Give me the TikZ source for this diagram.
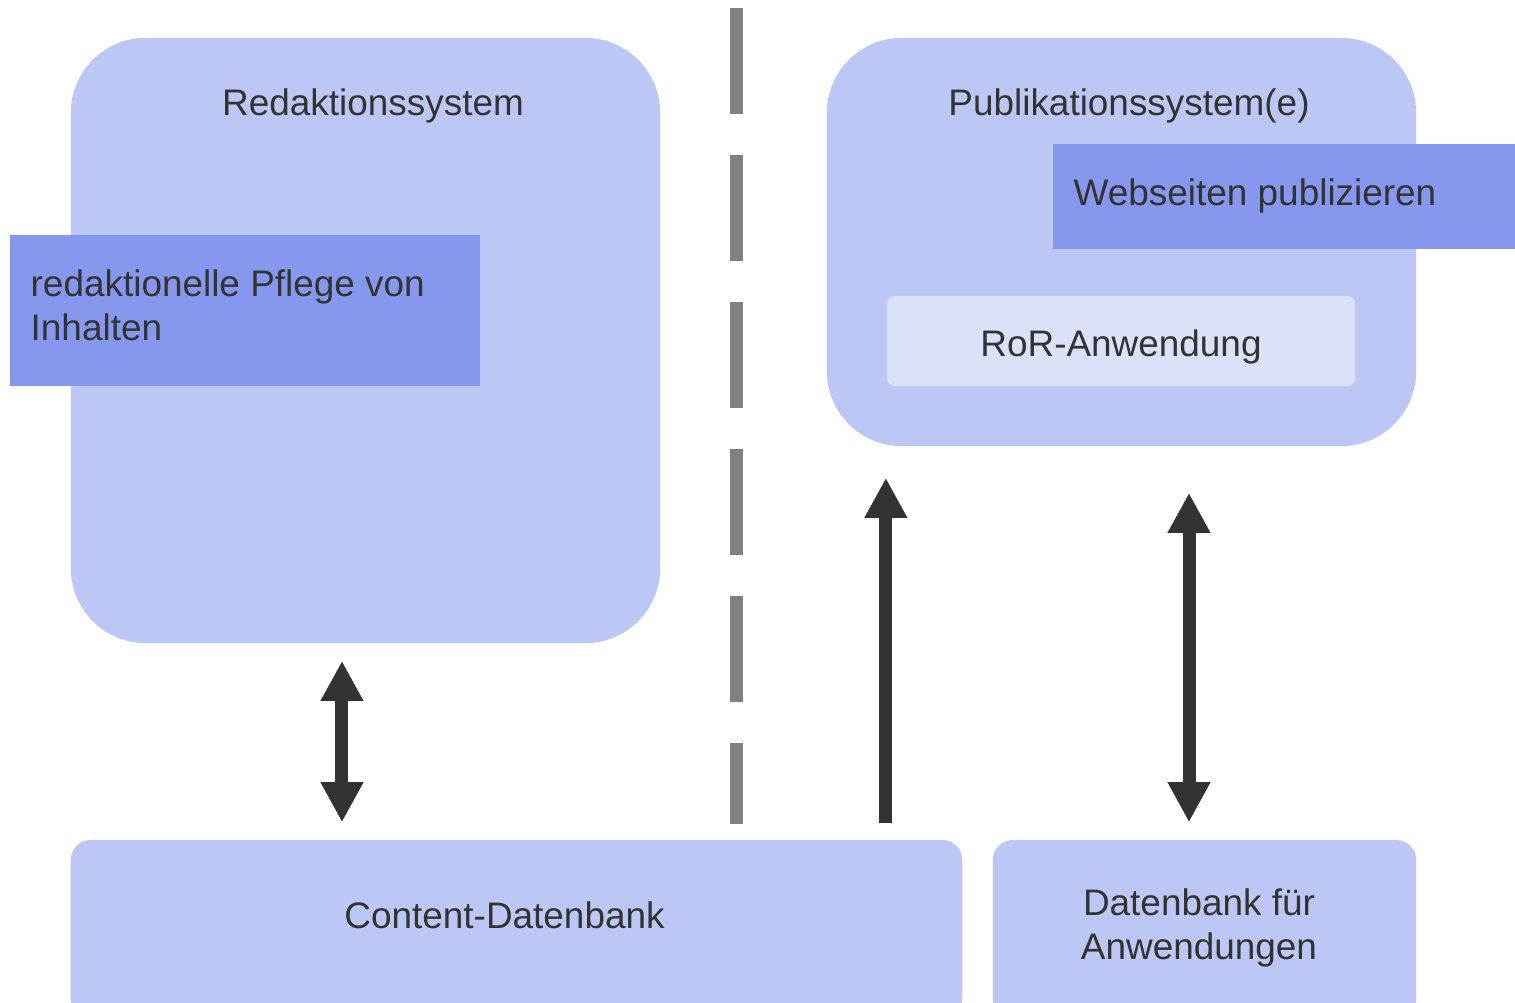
\documentclass[tikz,border=0pt]{standalone}
\usepackage{fontspec}
\setmainfont{Liberation Sans}
\usepackage{xcolor}
\usetikzlibrary{positioning, arrows.meta}
\definecolor{boxlight}{HTML}{BCC7F5}
\definecolor{boxdark}{HTML}{8598EE}
\definecolor{boxpale}{HTML}{DCE1FA}
\definecolor{txt}{HTML}{333333}
\definecolor{sepgray}{HTML}{808080}

\begin{document}
\begin{tikzpicture}[x=0.01cm, y=-0.01cm,
    every node/.style={text=txt, font=\fontsize{10.5}{12.5}\selectfont},
    system/.style={rectangle, fill=boxlight, rounded corners=0.75cm, inner sep=0pt},
    dbbox/.style={rectangle, fill=boxlight, rounded corners=0.2cm, inner sep=0pt, minimum height=1.8cm},
    task/.style={rectangle, fill=boxdark, inner sep=0pt},
    fat/.style={draw=txt, line width=0.13cm},
    >={Triangle[width=0.4cm, length=0.4cm]}]
    \useasboundingbox (0,0) rectangle (1515,1002);

    \node[system, minimum width=5.89cm, minimum height=6.05cm] (red) at (365.5, 340.5) {};
    \node[system, minimum width=5.89cm, minimum height=4.08cm] (pub) at (1121.5, 242) {};
    \node[dbbox, minimum width=8.91cm] (content) at (516.5, 930) {};
    \node[dbbox, minimum width=4.23cm] (apps) at (1204.5, 930) {};

    \node (redtitle) at (373, 106) {Redaktionssystem};
    \node (pubtitle) at (1129, 106) {Publikationssystem(e)};
    \node (contenttext) at (504.5, 915) {Content-Datenbank};
    \node[align=center] (appstext) at (1199, 928) {Datenbank für\\Anwendungen};

    \node[task, minimum width=4.7cm, minimum height=1.51cm] (pflege) at (245, 310.5) {};
    \node[anchor=west, align=left, inner sep=0pt] (pflegetext) at (30, 305) {redaktionelle Pflege von\\Inhalten};
    \node[task, minimum width=4.62cm, minimum height=1.05cm] (web) at (1284, 196.5) {};
    \node[anchor=west, inner sep=0pt] (webtext) at (1073, 196) {Webseiten publizieren};
    \node[rectangle, fill=boxpale, rounded corners=0.08cm, minimum width=4.68cm, minimum height=0.9cm] (ror) at (1121, 341) {};
    \node (rortext) at (1121, 347) {RoR-Anwendung};

    \coordinate (septop) at (736, 8);
    \coordinate (sepbot) at (736, 824);
    \draw[sepgray, line width=0.13cm, dash pattern=on 1.06cm off 0.41cm] (septop) -- (sepbot);

    \draw[fat, <->, shorten <=0.17cm, shorten >=0.17cm] ([xshift=-0.235cm]red.south) -- ([xshift=-0.235cm]red.south |- content.north);
    \draw[fat, ->, shorten <=0.16cm, shorten >=0.31cm] ([xshift=-2.355cm]pub.south |- content.north) -- ([xshift=-2.355cm]pub.south);
    \draw[fat, <->, shorten <=0.46cm, shorten >=0.17cm] ([xshift=-0.155cm]apps.north |- pub.south) -- ([xshift=-0.155cm]apps.north);
\end{tikzpicture}
\end{document}
